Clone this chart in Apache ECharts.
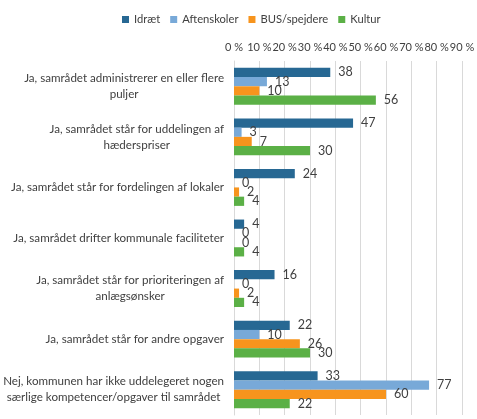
<!DOCTYPE html>
<html><head><meta charset="utf-8">
<script src="https://cdn.jsdelivr.net/npm/echarts@6/dist/echarts.min.js"></script>
<style>html,body{margin:0;padding:0;background:#fff}#c{width:477px;height:419px}</style>
</head><body><div id="c"></div>
<script>
const categories = [
  "Ja, samrådet administrerer en eller flere\npuljer",
  "Ja, samrådet står for uddelingen af\nhæderspriser",
  "Ja, samrådet står for fordelingen af lokaler",
  "Ja, samrådet drifter kommunale faciliteter",
  "Ja, samrådet står for prioriteringen af\nanlægsønsker",
  "Ja, samrådet står for andre opgaver",
  "Nej, kommunen har ikke uddelegeret nogen\nsærlige kompetencer/opgaver til samrådet"
];
const seriesNames = ["Idræt", "Aftenskoler", "BUS/spejdere", "Kultur"];
const idraet = [38, 47, 24, 4, 16, 22, 33];
const aftenskoler = [13, 3, 0, 0, 0, 10, 77];
const bus = [10, 7, 2, 0, 2, 26, 60];
const kultur = [56, 30, 4, 4, 4, 30, 22];
const colors = ["#276893", "#78A9D8", "#F7941D", "#5BB046"];
const allData = [idraet, aftenskoler, bus, kultur];
const FF = "Lato, 'Open Sans', sans-serif";

const chart = echarts.init(document.getElementById('c'));
chart.setOption({
  animation: false,
  textStyle: { fontFamily: FF },
  legend: {
    top: 9, left: 117, itemWidth: 7, itemHeight: 7, itemGap: 10,
    icon: 'rect',
    textStyle: { fontSize: 11.2, color: '#404040', fontFamily: FF },
    data: seriesNames
  },
  grid: { left: 234, right: 15, top: 61, bottom: 4, containLabel: false, outerBoundsMode: 'none' },
  xAxis: {
    type: 'value', position: 'top', min: 0, max: 90, interval: 10,
    axisLabel: { formatter: v => v + ' %', fontSize: 11, color: '#404040', margin: 8, fontFamily: FF, hideOverlap: false, showMaxLabel: true, showMinLabel: true },
    axisLine: { show: false }, axisTick: { show: false },
    splitLine: { lineStyle: { color: '#d9d9d9', width: 1 } }
  },
  yAxis: {
    type: 'category', inverse: true, data: categories,
    axisLine: { lineStyle: { color: '#d9d9d9' } }, axisTick: { show: false },
    axisLabel: {
      margin: 10, color: '#404040', fontSize: 11.6, lineHeight: 16,
      formatter: v => v.split('\n').map(s => '{c|' + s + '}').join('\n'),
      rich: { c: { align: 'center', fontSize: 11.6, color: '#404040', lineHeight: 16, fontFamily: FF } }
    }
  },
  series: seriesNames.map((n, i) => ({
    name: n, type: 'bar', data: allData[i], barGap: '0%', barCategoryGap: '27%',
    itemStyle: { color: colors[i] },
    label: { show: true, position: 'right', distance: 8, fontSize: 12.5, color: '#404040', fontFamily: FF }
  }))
});
</script></body></html>
